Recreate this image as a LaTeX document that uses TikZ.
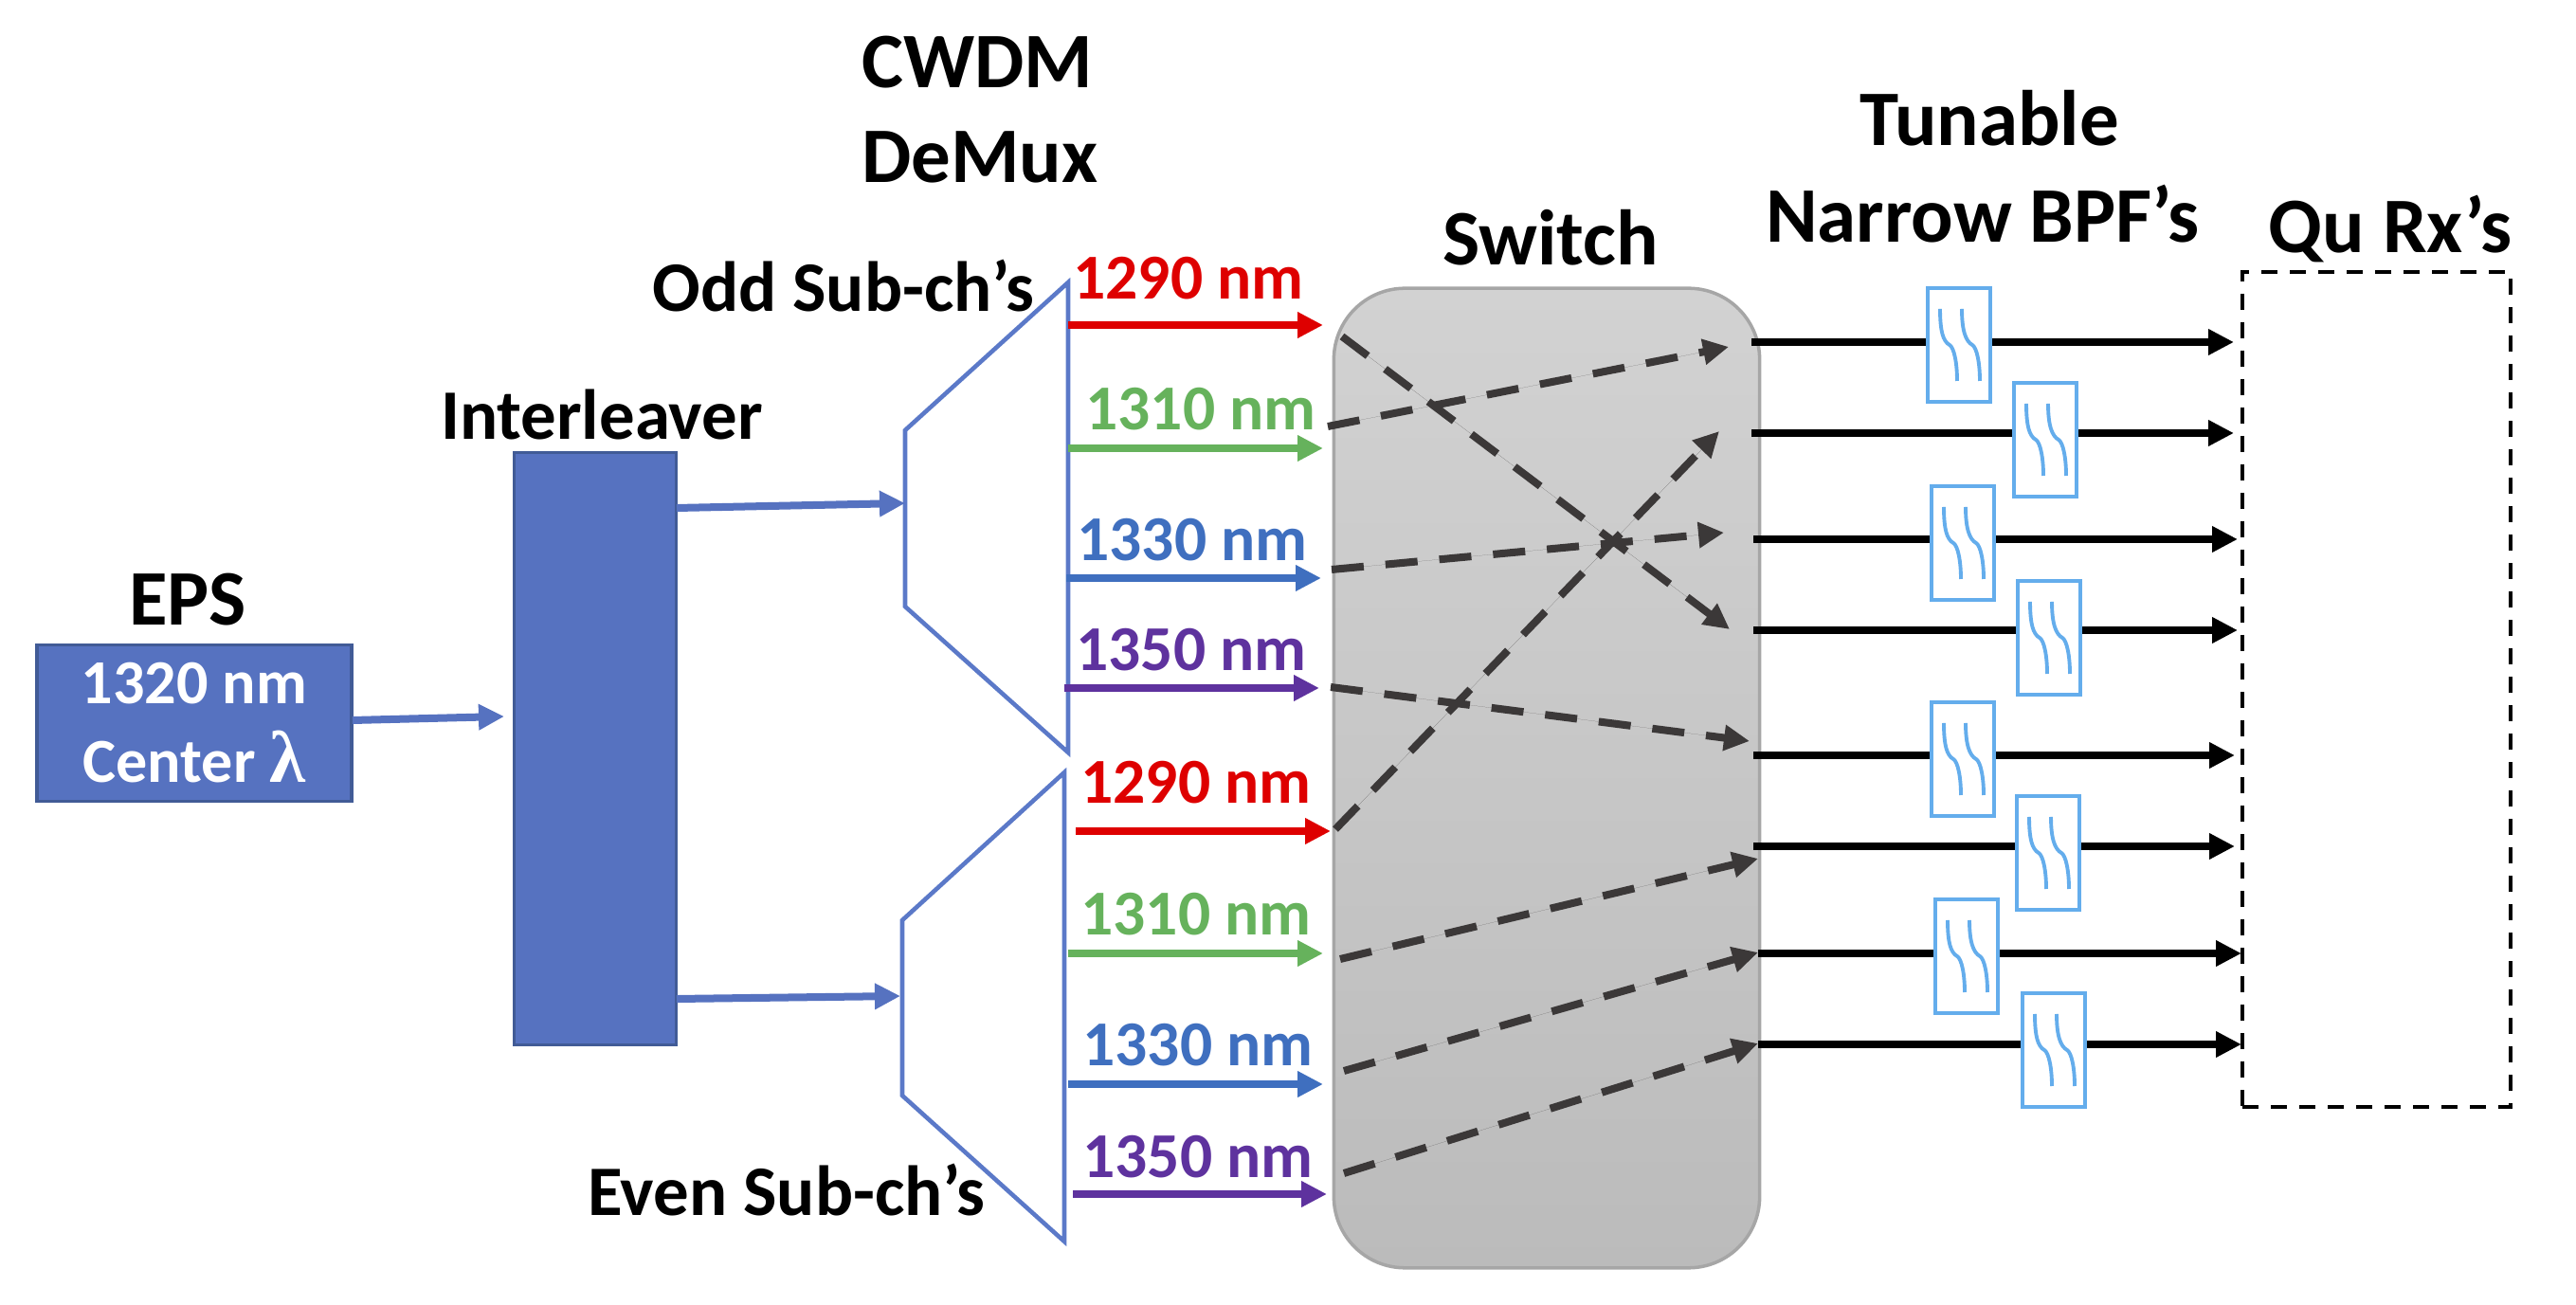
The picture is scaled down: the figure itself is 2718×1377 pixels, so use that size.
\documentclass[tikz,border=0pt]{standalone}
\usepackage{fontspec}
\setmainfont{Carlito}
\newfontfamily\greekfont{Liberation Serif}
\usetikzlibrary{arrows.meta}

\definecolor{boxblue}{HTML}{5672C0}
\definecolor{boxedge}{HTML}{415B96}
\definecolor{muxblue}{HTML}{5B79C8}
\definecolor{bpfblue}{HTML}{64ADEC}
\definecolor{chred}{HTML}{DE0000}
\definecolor{chgreen}{HTML}{66B25C}
\definecolor{chblue}{HTML}{3F6FBF}
\definecolor{chpurple}{HTML}{5E329E}
\definecolor{hopgray}{HTML}{3B3838}
\definecolor{swedge}{HTML}{A6A6A6}
\definecolor{swtop}{HTML}{D2D2D2}
\definecolor{swbottom}{HTML}{BBBBBB}

\tikzset{
  title/.style={font=\fontsize{23.6}{28.4}\selectfont\bfseries, inner sep=0pt},
  subtitle/.style={font=\fontsize{21.3}{26}\selectfont\bfseries, inner sep=0pt},
  nmlabel/.style={font=\fontsize{19.2}{23}\selectfont\bfseries, inner sep=0pt},
  block/.style={draw=boxedge, fill=boxblue, line width=1pt, inner sep=0pt},
  demux/.style={draw=muxblue, line width=1.3pt, line join=miter},
  tip/.style={-{Triangle[length=0.27cm,width=0.26cm]}, line width=0.08cm},
  feed/.style={tip, draw=boxblue},
  hop/.style={tip, draw=hopgray, fill=hopgray, dash pattern=on 0.34cm off 0.23cm},
  row/.style={tip, draw=black},
  bpf/.style={draw=bpfblue, fill=white, line width=1.1pt, inner sep=0pt,
    minimum width=0.66cm, minimum height=1.2cm},
  bpfcurves/.pic={
    \draw[bpfblue, line width=1.1pt]
      (-20,-38) .. controls (-20,-15) and (-17,-4) .. (-10,0)
      .. controls (-5,3) and (-2,20) .. (-2,38);
    \draw[bpfblue, line width=1.1pt]
      (3,-38) .. controls (3,-15) and (7,-4) .. (14,0)
      .. controls (19,3) and (22,20) .. (22,38);
  }
}

\begin{document}
\begin{tikzpicture}[x=0.01cm, y=-0.01cm]
  \useasboundingbox (0,0) rectangle (2718,1377);

  % --- Source and interleaver ---
  \node[title] (epstitle) at (198,633) {EPS};
  \node[block, minimum width=3.32cm, minimum height=1.65cm, align=center,
        text=white, font=\fontsize{18.8}{23.6}\selectfont\bfseries] (eps) at (205,763)
        {1320 nm\\Center {\greekfont\fontsize{22}{23.6}\selectfont λ}};
  \node[subtitle] (iltitle) at (635,438) {Interleaver};
  \node[block, minimum width=1.71cm, minimum height=6.25cm] (il) at (628,790) {};

  % --- CWDM demultiplexers ---
  \node[title, align=left] (cwdmtitle) at (1034,116) {CWDM\\DeMux};
  \node[subtitle] (oddtitle) at (890,302) {Odd Sub-ch’s};
  \node[subtitle] (eventitle) at (830,1256) {Even Sub-ch’s};
  \draw[demux] (1127,298) -- (955,454) -- (955,640) -- (1127,794) -- cycle;
  \draw[demux] (1123,815) -- (952,971) -- (952,1156) -- (1123,1310) -- cycle;
  \coordinate (oddin) at (955,531);
  \coordinate (evenin) at (950,1051);
  \coordinate (ilodd) at (714,536);
  \coordinate (ileven) at (714,1054);
  \coordinate (ilin) at (532,756);
  \coordinate (epsout) at (372,760);
  \draw[feed] (epsout) -- (ilin);
  \draw[feed] (ilodd) -- (oddin);
  \draw[feed] (ileven) -- (evenin);

  % --- Switch body ---
  \node[draw=swedge, line width=1pt, rounded corners=0.75cm, top color=swtop,
        bottom color=swbottom, minimum width=4.49cm, minimum height=10.33cm] (sw) at (1632,821) {};
  \node[title] (swtitle) at (1636,251) {Switch};

  % --- Wavelength labels and arrows (odd group) ---
  \node[nmlabel, text=chred] (oa) at (1254,294) {1290 nm};
  \node[nmlabel, text=chgreen] (ob) at (1267,432) {1310 nm};
  \node[nmlabel, text=chblue] (oc) at (1258,570) {1330 nm};
  \node[nmlabel, text=chpurple] (od) at (1257,686) {1350 nm};
  \coordinate (oa1) at (1127,343); \coordinate (oa2) at (1396,343);
  \coordinate (ob1) at (1127,473); \coordinate (ob2) at (1396,473);
  \coordinate (oc1) at (1125,610); \coordinate (oc2) at (1394,610);
  \coordinate (od1) at (1123,726); \coordinate (od2) at (1392,726);
  \draw[tip, draw=chred] (oa1) -- (oa2);
  \draw[tip, draw=chgreen] (ob1) -- (ob2);
  \draw[tip, draw=chblue] (oc1) -- (oc2);
  \draw[tip, draw=chpurple] (od1) -- (od2);

  % --- Wavelength labels and arrows (even group) ---
  \node[nmlabel, text=chred] (ea) at (1262,826) {1290 nm};
  \node[nmlabel, text=chgreen] (eb) at (1262,965) {1310 nm};
  \node[nmlabel, text=chblue] (ec) at (1264,1103) {1330 nm};
  \node[nmlabel, text=chpurple] (ed) at (1264,1221) {1350 nm};
  \coordinate (ea1) at (1135,877); \coordinate (ea2) at (1404,877);
  \coordinate (eb1) at (1127,1006); \coordinate (eb2) at (1396,1006);
  \coordinate (ec1) at (1127,1144); \coordinate (ec2) at (1396,1144);
  \coordinate (ed1) at (1132,1260); \coordinate (ed2) at (1400,1260);
  \draw[tip, draw=chred] (ea1) -- (ea2);
  \draw[tip, draw=chgreen] (eb1) -- (eb2);
  \draw[tip, draw=chblue] (ec1) -- (ec2);
  \draw[tip, draw=chpurple] (ed1) -- (ed2);

  % --- Paths through the switch ---
  \coordinate (ha1) at (1416,355); \coordinate (ha2) at (1825,664);
  \coordinate (hb1) at (1401,450); \coordinate (hb2) at (1824,366);
  \coordinate (hc1) at (1405,601); \coordinate (hc2) at (1819,562);
  \coordinate (hd1) at (1404,725); \coordinate (hd2) at (1846,782);
  \coordinate (he1) at (1409,875); \coordinate (he2) at (1814,455);
  \coordinate (hf1) at (1414,1012); \coordinate (hf2) at (1855,906);
  \coordinate (hg1) at (1418,1130); \coordinate (hg2) at (1855,1005);
  \coordinate (hh1) at (1418,1238); \coordinate (hh2) at (1855,1101);
  \draw[hop] (ha1) -- (ha2);
  \draw[hop] (hb1) -- (hb2);
  \draw[hop] (hc1) -- (hc2);
  \draw[hop] (hd1) -- (hd2);
  \draw[hop] (he1) -- (he2);
  \draw[hop] (hf1) -- (hf2);
  \draw[hop] (hg1) -- (hg2);
  \draw[hop] (hh1) -- (hh2);

  % --- Receiver box ---
  \node[title] (rxtitle) at (2522,242) {Qu Rx’s};
  \node[draw=black, line width=1.1pt, dash pattern=on 0.17cm off 0.13cm,
        minimum width=2.83cm, minimum height=8.81cm] (rx) at (2507.5,727.5) {};

  % --- Output rows, the filters sit on top of them ---
  \node[title] (tunetitle) at (2099,125) {Tunable};
  \node[title] (bpftitle) at (2092,226) {Narrow BPF’s};
  \coordinate (r1a) at (1848,361); \coordinate (r1b) at (2357,361);
  \coordinate (r2a) at (1848,457); \coordinate (r2b) at (2357,457);
  \coordinate (r3a) at (1850,569); \coordinate (r3b) at (2361,569);
  \coordinate (r4a) at (1850,665); \coordinate (r4b) at (2361,665);
  \coordinate (r5a) at (1850,797); \coordinate (r5b) at (2358,797);
  \coordinate (r6a) at (1850,893); \coordinate (r6b) at (2358,893);
  \coordinate (r7a) at (1855,1006); \coordinate (r7b) at (2365,1006);
  \coordinate (r8a) at (1855,1102); \coordinate (r8b) at (2365,1102);
  \draw[row] (r1a) -- (r1b);
  \draw[row] (r2a) -- (r2b);
  \draw[row] (r3a) -- (r3b);
  \draw[row] (r4a) -- (r4b);
  \draw[row] (r5a) -- (r5b);
  \draw[row] (r6a) -- (r6b);
  \draw[row] (r7a) -- (r7b);
  \draw[row] (r8a) -- (r8b);

  \node[bpf] (f1) at (2067,364) {};
  \node[bpf] (f2) at (2158,464) {};
  \node[bpf] (f3) at (2071,573) {};
  \node[bpf] (f4) at (2162,673) {};
  \node[bpf] (f5) at (2071,801) {};
  \node[bpf] (f6) at (2161,900) {};
  \node[bpf] (f7) at (2075,1009) {};
  \node[bpf] (f8) at (2167,1108) {};
  \pic at (f1) {bpfcurves};
  \pic at (f2) {bpfcurves};
  \pic at (f3) {bpfcurves};
  \pic at (f4) {bpfcurves};
  \pic at (f5) {bpfcurves};
  \pic at (f6) {bpfcurves};
  \pic at (f7) {bpfcurves};
  \pic at (f8) {bpfcurves};
\end{tikzpicture}
\end{document}
